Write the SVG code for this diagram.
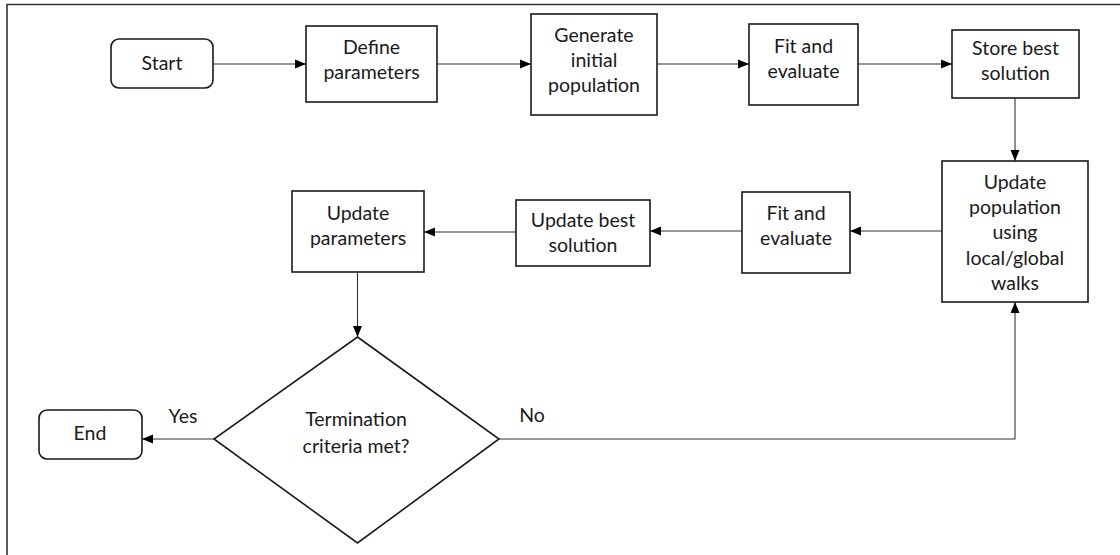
<svg xmlns="http://www.w3.org/2000/svg" width="1120" height="555" viewBox="0 0 1120 555">
<style>
.box{fill:#fff;stroke:#1a1a1a;stroke-width:1.6}
.t{font-family:Lato,"Noto Sans","Liberation Sans",sans-serif;font-size:19.5px;fill:#1a1a1a;text-anchor:middle}
.c{stroke:#333;stroke-width:1.1;fill:none}
.frame{stroke:#333;stroke-width:1.6;fill:none}
</style>
<defs>
<marker id="ah" viewBox="0 0 11 10" refX="11" refY="5" markerWidth="11" markerHeight="10" markerUnits="userSpaceOnUse" orient="auto">
<path d="M0,0.5 L11,5 L0,9.5 z" fill="#000"/>
</marker>
</defs>
<rect width="1120" height="555" fill="#fff"/>
<path class="frame" d="M7,555 V4.5 H1120"/>
<g id="connectors">
<line class="c" x1="213" y1="64" x2="306" y2="64" marker-end="url(#ah)"/>
<line class="c" x1="437" y1="64" x2="531" y2="64" marker-end="url(#ah)"/>
<line class="c" x1="657" y1="64" x2="749" y2="64" marker-end="url(#ah)"/>
<line class="c" x1="858" y1="64" x2="952" y2="64" marker-end="url(#ah)"/>
<line class="c" x1="1015" y1="98" x2="1015" y2="161" marker-end="url(#ah)"/>
<line class="c" x1="942" y1="231" x2="850" y2="231" marker-end="url(#ah)"/>
<line class="c" x1="742" y1="231" x2="650" y2="231" marker-end="url(#ah)"/>
<line class="c" x1="516" y1="232" x2="424" y2="232" marker-end="url(#ah)"/>
<line class="c" x1="357.5" y1="272" x2="357.5" y2="337" marker-end="url(#ah)"/>
<line class="c" x1="214" y1="439" x2="142" y2="439" marker-end="url(#ah)"/>
<polyline class="c" points="499,439 1015,439 1015,302" marker-end="url(#ah)"/>
<text class="t" x="183" y="423">Yes</text>
<text class="t" x="532" y="422">No</text>
</g>
<g id="start"><rect class="box" x="111" y="39" width="102" height="49" rx="8"/><text class="t" x="162" y="70">Start</text></g>
<g id="define"><rect class="box" x="306" y="26" width="131" height="76"/><text class="t" x="371.5" y="54">Define</text><text class="t" x="371.5" y="79">parameters</text></g>
<g id="generate"><rect class="box" x="531" y="14" width="126" height="101"/><text class="t" x="594" y="42">Generate</text><text class="t" x="594" y="67">initial</text><text class="t" x="594" y="92">population</text></g>
<g id="fit1"><rect class="box" x="749" y="24" width="109" height="81"/><text class="t" x="803.5" y="53">Fit and</text><text class="t" x="803.5" y="78">evaluate</text></g>
<g id="store"><rect class="box" x="952" y="30" width="127" height="68"/><text class="t" x="1015.5" y="55">Store best</text><text class="t" x="1015.5" y="80">solution</text></g>
<g id="updatepop"><rect class="box" x="942" y="161" width="146" height="141"/><text class="t" x="1015" y="189">Update</text><text class="t" x="1015" y="214">population</text><text class="t" x="1015" y="239">using</text><text class="t" x="1015" y="265">local/global</text><text class="t" x="1015" y="290">walks</text></g>
<g id="fit2"><rect class="box" x="742" y="192" width="108" height="81"/><text class="t" x="796" y="220">Fit and</text><text class="t" x="796" y="245">evaluate</text></g>
<g id="updatebest"><rect class="box" x="516" y="200" width="134" height="66"/><text class="t" x="583" y="227">Update best</text><text class="t" x="583" y="252">solution</text></g>
<g id="updateparams"><rect class="box" x="292" y="191" width="132" height="81"/><text class="t" x="358" y="220">Update</text><text class="t" x="358" y="245">parameters</text></g>
<g id="decision"><polygon class="box" points="357.5,337 499,439 357.5,543 214,439"/><text class="t" x="356" y="426">Termination</text><text class="t" x="356" y="453">criteria met?</text></g>
<g id="end"><rect class="box" x="39" y="410" width="103" height="49" rx="8"/><text class="t" x="90" y="440">End</text></g>
</svg>
